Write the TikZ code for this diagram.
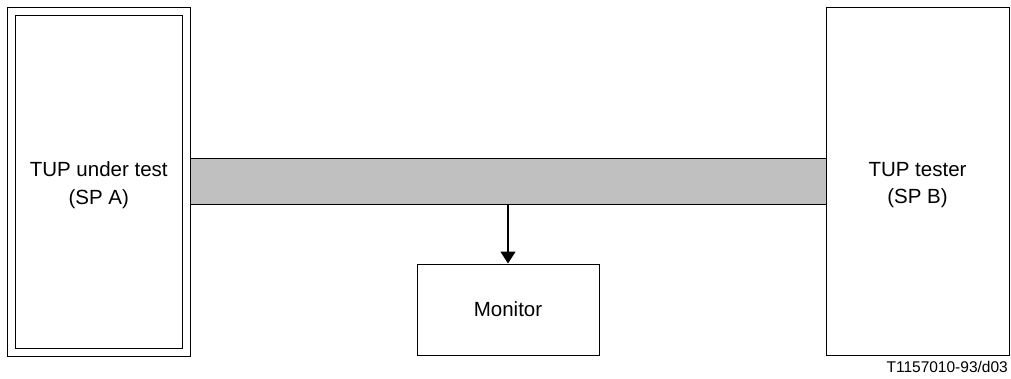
\documentclass[tikz,border=0pt]{standalone}
\usepackage{fontspec}
\setmainfont{Liberation Sans}
\usetikzlibrary{arrows.meta}
\begin{document}
\begin{tikzpicture}[x=1pt,y=-1pt,
  box/.style={draw=black,line width=1pt,inner sep=0pt,fill=white},
  lbl/.style={font=\fontsize{20.5}{27.5}\selectfont,align=center,inner sep=0pt},
  conn/.style={line width=1.6pt,-{Triangle[width=15pt,length=12pt]}}]
\useasboundingbox (0,0) rectangle (1011,378);
\node[box,minimum width=182.5pt,minimum height=349pt] (aout) at (98.75,181.5) {};
\node[box,minimum width=166.5pt,minimum height=333pt] (ain) at (98.75,181.5) {};
\node[box,minimum width=183pt,minimum height=348pt] (b) at (917.5,181) {};
\node[box,fill={rgb,255:red,192;green,192;blue,192},minimum width=636pt,minimum height=46pt] (bar) at (508,181) {};
\node[box,minimum width=182pt,minimum height=91pt] (mon) at (508,309.5) {};
\node[lbl] (ta) at (98.75,185) {TUP under test\\(SP A)};
\node[lbl] (tb) at (917.5,185) {TUP tester\\(SP B)};
\node[lbl] (tm) at (508,309.5) {Monitor};
\node[font=\fontsize{15.5}{18}\selectfont,anchor=east,inner sep=0pt] (tag) at (1008,367) {T1157010-93/d03};
\draw[conn] (bar.south) -- (mon.north);
\end{tikzpicture}
\end{document}
